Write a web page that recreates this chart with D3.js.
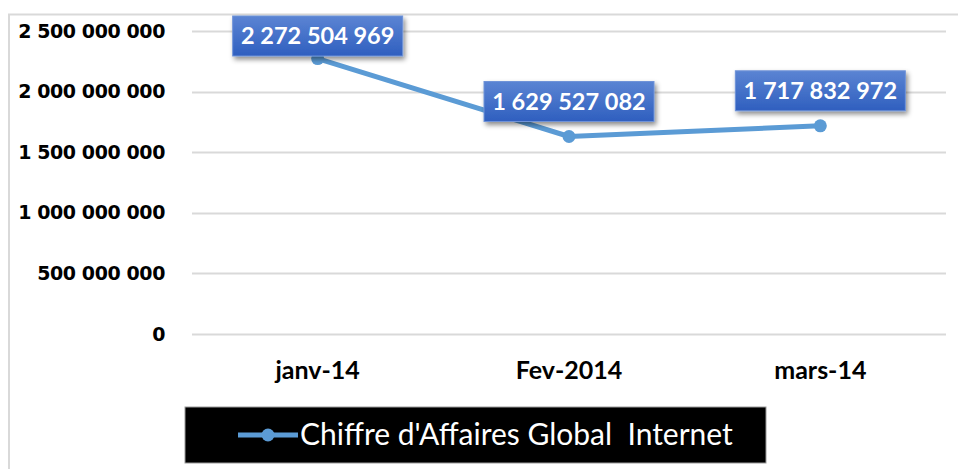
<!DOCTYPE html>
<html>
<head>
<meta charset="utf-8">
<script src="https://cdn.jsdelivr.net/npm/d3@7"></script>
<style>
  body { margin: 0; background: #fff; }
  svg { display: block; }
</style>
</head>
<body>
<svg id="chart" width="958" height="469"></svg>
<script>
// data
var categories = ["janv-14", "Fev-2014", "mars-14"];
var values = [2272504969, 1629527082, 1717832972];
var yTicks = [0, 500000000, 1000000000, 1500000000, 2000000000, 2500000000];
var seriesName = "Chiffre d'Affaires Global  Internet";

var svg = d3.select("#chart");
var margin = {top: 31, right: 12, bottom: 135, left: 192};
var width = 958 - margin.left - margin.right,
    height = 469 - margin.top - margin.bottom;

var fmt = function(v) { return d3.format(",")(v).replace(/,/g, " "); };

var defs = svg.append("defs");
var grad = defs.append("linearGradient").attr("id", "lblGrad")
  .attr("x1", 0).attr("y1", 0).attr("x2", 0).attr("y2", 1);
grad.append("stop").attr("offset", "0%").attr("stop-color", "#5b84d3");
grad.append("stop").attr("offset", "100%").attr("stop-color", "#2f5fbf");
var shadow = defs.append("filter").attr("id", "shadow")
  .attr("x", "-20%").attr("y", "-30%").attr("width", "150%").attr("height", "180%");
shadow.append("feDropShadow").attr("dx", 2).attr("dy", 3).attr("stdDeviation", 2.5)
  .attr("flood-color", "#000").attr("flood-opacity", 0.45);

// outer chart border (top + left like the screenshot)
svg.append("line").attr("x1", 8).attr("x2", 958).attr("y1", 14.5).attr("y2", 14.5)
  .attr("stroke", "#d9d9d9").attr("stroke-width", 2);
svg.append("line").attr("x1", 9).attr("x2", 9).attr("y1", 14).attr("y2", 469)
  .attr("stroke", "#d9d9d9").attr("stroke-width", 2);

var g = svg.append("g").attr("transform", "translate(" + margin.left + "," + margin.top + ")");

var x = d3.scaleBand().domain(categories).range([0, width]);
var y = d3.scaleLinear().domain([0, 2500000000]).range([height, 0]);

// gridlines
g.append("g").selectAll("line").data(yTicks).enter().append("line")
  .attr("x1", 0).attr("x2", width)
  .attr("y1", function(d) { return Math.round(y(d)) + 0.5; })
  .attr("y2", function(d) { return Math.round(y(d)) + 0.5; })
  .attr("stroke", "#d9d9d9").attr("stroke-width", 2);

// y axis
var yAxis = g.append("g").attr("class", "axis axis--y")
  .call(d3.axisLeft(y).tickValues(yTicks).tickFormat(fmt).tickSize(0).tickPadding(27));
yAxis.select(".domain").remove();
yAxis.selectAll("text")
  .attr("font-family", "DejaVu Sans").attr("font-weight", "bold")
  .attr("font-size", "19px").attr("letter-spacing", "-0.4px").attr("fill", "#000");

// x axis
var xAxis = g.append("g").attr("class", "axis axis--x")
  .attr("transform", "translate(0," + height + ")")
  .call(d3.axisBottom(x).tickSize(0).tickPadding(27));
xAxis.select(".domain").remove();
xAxis.selectAll("text")
  .attr("font-family", "Lato").attr("font-weight", "bold")
  .attr("font-size", "25px").attr("fill", "#000");

// line
var cx = function(d, i) { return x(categories[i]) + x.bandwidth() / 2; };
var line = d3.line().x(cx).y(function(d) { return y(d); });
g.append("path").datum(values)
  .attr("d", line).attr("fill", "none")
  .attr("stroke", "#5b9bd5").attr("stroke-width", 5).attr("stroke-linejoin", "round");
g.selectAll(".dot").data(values).enter().append("circle")
  .attr("class", "dot").attr("cx", cx).attr("cy", function(d) { return y(d); })
  .attr("r", 6.5).attr("fill", "#5b9bd5");

// data labels
var boxW = 170, boxH = 40;
var lbl = g.selectAll(".lbl").data(values).enter().append("g").attr("class", "lbl")
  .attr("transform", function(d, i) {
    var top = Math.max(y(d) - 15 - boxH, -15);
    return "translate(" + (cx(d, i) - boxW / 2) + "," + top + ")";
  });
lbl.append("rect").attr("width", boxW).attr("height", boxH)
  .attr("fill", "url(#lblGrad)").attr("stroke", "#6f93d8").attr("stroke-width", 1)
  .attr("filter", "url(#shadow)");
lbl.append("text").attr("x", boxW / 2).attr("y", boxH / 2 + 8)
  .attr("text-anchor", "middle")
  .attr("font-family", "Lato").attr("font-weight", "bold").attr("font-size", "23.5px")
  .attr("fill", "#fff").text(fmt);

// legend
var leg = svg.append("g").attr("transform", "translate(185,407)");
leg.append("rect").attr("width", 581).attr("height", 56)
  .attr("fill", "#000").attr("stroke", "#9a9a9a").attr("stroke-width", 1);
leg.append("line").attr("x1", 53).attr("x2", 113).attr("y1", 28).attr("y2", 28)
  .attr("stroke", "#5b9bd5").attr("stroke-width", 5);
leg.append("circle").attr("cx", 83).attr("cy", 28).attr("r", 6.5).attr("fill", "#5b9bd5");
leg.append("text").attr("x", 115).attr("y", 38)
  .attr("font-family", "Lato").attr("font-size", "30px").attr("fill", "#fff")
  .attr("xml:space", "preserve").style("white-space", "pre")
  .text(seriesName);
</script>
</body>
</html>
